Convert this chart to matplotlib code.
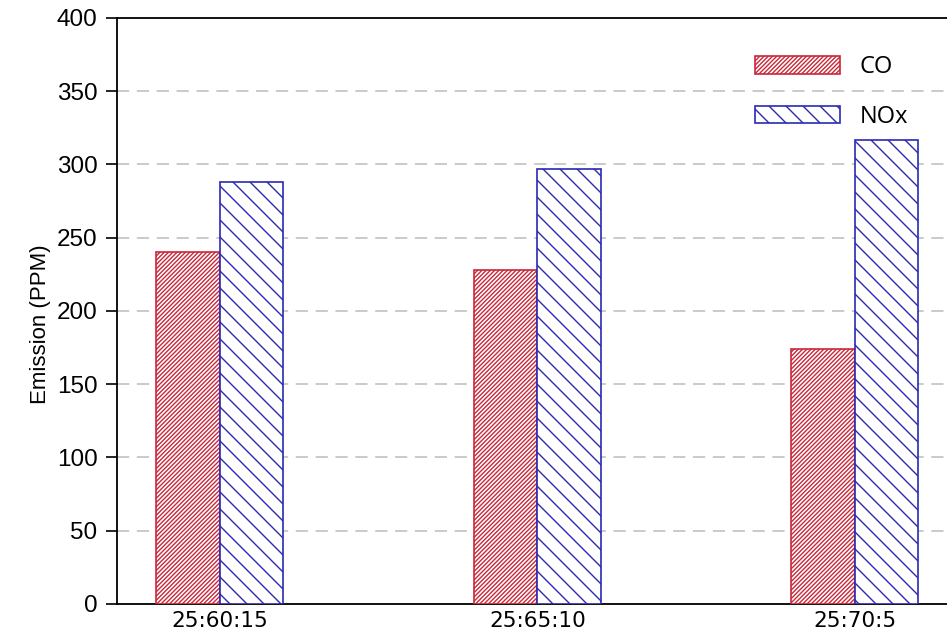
import matplotlib.pyplot as plt
import numpy as np

# Blend ratios and measured emissions (PPM)
ratios = ['25:60:15', '25:65:10', '25:70:5']
co_ppm = [240, 228, 174]
nox_ppm = [288, 297, 317]

red = '#c8283a'
blue = '#2a2ab4'

# low dpi gives the denser hatch spacing; k keeps text/line sizes in pixels
dpi = 51
k = 100 / dpi
plt.rcParams['hatch.linewidth'] = 1.0 * k

fig = plt.figure(figsize=(947 / dpi, 642 / dpi), dpi=dpi)
ax = fig.add_axes([0.1235, 0.0592, 1 - 0.1235, 0.9128])

x = np.arange(len(ratios))
w = 0.2
ax.bar(x - w / 2, co_ppm, w, color='white', edgecolor=red, hatch='////',
       linewidth=1.2 * k, label='CO', zorder=3)
ax.bar(x + w / 2, nox_ppm, w, color='white', edgecolor=blue, hatch='\\',
       linewidth=1.2 * k, label='NOx', zorder=3)

ax.set_xlim(-0.324, 2.29)
ax.set_ylim(0, 400)
ax.set_yticks(range(0, 401, 50))
ax.set_xticks(x)
ax.set_xticklabels(ratios, fontsize=15.5 * k, family='DejaVu Sans')
ax.tick_params(axis='x', length=0, pad=5 * k)
ax.tick_params(axis='y', direction='out', length=8 * k, width=1.2 * k,
               labelsize=17.5 * k, pad=6 * k)
for lbl in ax.get_yticklabels():
    lbl.set_family('Liberation Sans')

ax.set_ylabel('Emission (PPM)', fontsize=16 * k, family='Liberation Sans')
ax.yaxis.set_label_coords(-0.08, 0.478)

# dashed horizontal guides behind the bars
for yv in range(50, 400, 50):
    ax.axhline(yv, color='#bcbcbc', linestyle=(0, (8, 5)), linewidth=1.1 * k, zorder=0)

for s in ['left', 'top', 'bottom']:
    ax.spines[s].set_linewidth(1.3 * k)
ax.spines['right'].set_visible(False)

ax.legend(loc='upper left', bbox_to_anchor=(0.7748, 0.947), frameon=False,
          handlelength=3.6, handleheight=0.75, labelspacing=1.07,
          handletextpad=0.83, prop={'family': 'Open Sans', 'size': 17 * k},
          bbox_transform=fig.transFigure)

fig.savefig('out.png', dpi=dpi)
